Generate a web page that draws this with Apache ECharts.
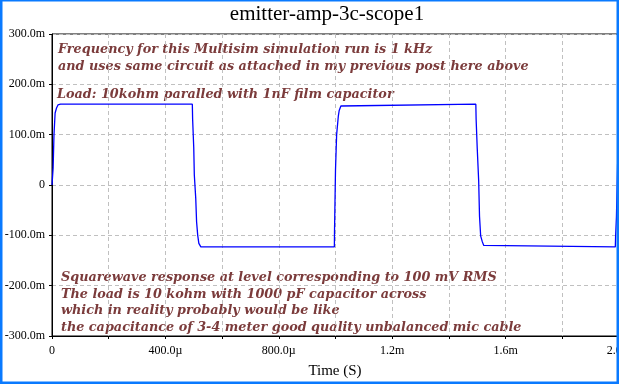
<!DOCTYPE html>
<html>
<head>
<meta charset="utf-8">
<script src="https://cdn.jsdelivr.net/npm/echarts@6/dist/echarts.min.js"></script>
<style>
html,body{margin:0;padding:0;background:#fff;}
#c{width:619px;height:384px;}
</style>
</head>
<body>
<div id="c"></div>
<script>
// time in microseconds, voltage in millivolts
const times = [0, 4, 7, 11, 16, 21, 30,
  495, 496, 500, 502, 507, 510, 514, 518, 525,
  996, 996.5, 1000, 1004, 1010, 1013, 1019, 1025,
  1495, 1496, 1500, 1505, 1508, 1512, 1518, 1523, 1528,
  1987, 1988, 1991, 1995, 2000];
const volts = [0, 34, 100, 143, 153, 159, 160.5,
  160.5, 131, 74, 20, -26, -73, -100, -116, -123,
  -123, -93, 30, 100, 137, 148, 157, 160.5,
  160.5, 131, 72, 9, -62, -101, -113, -120, -123,
  -123, -103, -63, 40, 110];
const xTickLabels = {0: '0', 400: '400.0µ', 800: '800.0µ', 1200: '1.2m', 1600: '1.6m', 2000: '2.0m'};
const titleText = 'emitter-amp-3c-scope1';
const xAxisName = 'Time (S)';
const note1 = ['Frequency for this Multisim simulation run is 1 kHz', 'and uses same circuit as attached in my previous post here above'];
const note2 = ['Load: 10kohm paralled with 1nF film capacitor'];
const note3 = ['Squarewave response at level corresponding to 100 mV RMS',
  'The load is 10 kohm with 1000 pF capacitor across',
  'which in reality probably would be like',
  'the capacitance of 3-4 meter good quality unbalanced mic cable'];

const chart = echarts.init(document.getElementById('c'), null, {renderer: 'canvas'});
const data = times.map((t, i) => [t, volts[i]]);
const noteStyle = {fill: '#7b3b3b', font: 'italic bold 12.8px "DejaVu Serif"', lineHeight: 16.5};
const grid = {left: 52, top: 34, width: 567, height: 302};

chart.setOption({
  animation: false,
  backgroundColor: '#fff',
  grid: Object.assign({show: true, borderColor: '#000', borderWidth: 1, backgroundColor: 'transparent',
    containLabel: false, outerBoundsMode: 'none'}, grid),
  xAxis: {
    type: 'value', min: 0, max: 2000, interval: 200,
    axisLine: {show: true, onZero: false, lineStyle: {color: '#000', width: 1}},
    axisTick: {show: true, length: 3, lineStyle: {color: '#000'}},
    axisLabel: {
      margin: 9, color: '#000', fontFamily: 'Liberation Serif', fontSize: 12,
      formatter: v => (xTickLabels[v] !== undefined ? xTickLabels[v] : '')
    },
    splitLine: {show: true, lineStyle: {color: '#c0c0c0', type: [4, 3], width: 1}}
  },
  yAxis: {
    type: 'value', min: -300, max: 300, interval: 100,
    axisLine: {show: true, onZero: false, lineStyle: {color: '#000', width: 1}},
    axisTick: {show: true, length: 3, lineStyle: {color: '#000'}},
    axisLabel: {
      margin: 7, color: '#000', fontFamily: 'Liberation Serif', fontSize: 12,
      formatter: v => (v === 0 ? '0' : v.toFixed(1) + 'm')
    },
    splitLine: {show: true, lineStyle: {color: '#c0c0c0', type: [4, 3], width: 1}}
  },
  series: [{
    type: 'line', data: data, showSymbol: false, symbol: 'none',
    lineStyle: {color: '#0000ff', width: 1.3}, clip: true, z: 3
  }],
  graphic: [
    {type: 'text', x: 327, y: 4, style: {text: titleText, fill: '#000', font: '21px "Liberation Serif"', textAlign: 'center'}},
    {type: 'text', x: 335, y: 364, style: {text: xAxisName, fill: '#000', font: '15px "Liberation Serif"', textAlign: 'center'}},
    {type: 'text', x: 58, y: 41.5, style: Object.assign({text: note1.join('\n')}, noteStyle)},
    {type: 'text', x: 57, y: 86, style: Object.assign({text: note2.join('\n')}, noteStyle)},
    {type: 'text', x: 61, y: 269.5, style: Object.assign({text: note3.join('\n')}, noteStyle)},
    {type: 'rect', z: 100, shape: {x: 0, y: 0, width: 619, height: 1.5}, style: {fill: '#0a7aff'}},
    {type: 'rect', z: 100, shape: {x: 0, y: 0, width: 2.5, height: 384}, style: {fill: '#0a7aff'}},
    {type: 'rect', z: 100, shape: {x: 616.5, y: 0, width: 3, height: 384}, style: {fill: '#0a7aff'}},
    {type: 'rect', z: 100, shape: {x: 0, y: 381.5, width: 619, height: 3}, style: {fill: '#0a7aff'}}
  ]
});
</script>
</body>
</html>
